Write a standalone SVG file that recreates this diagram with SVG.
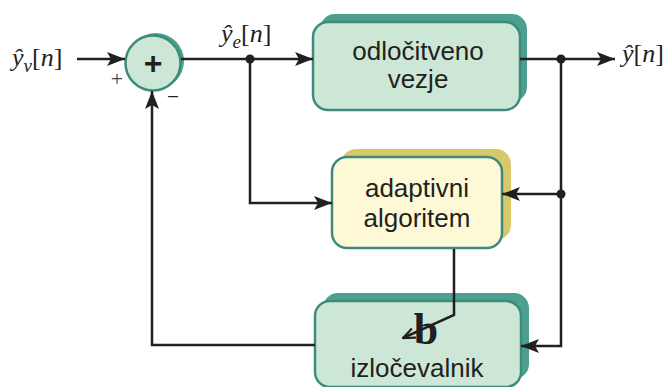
<svg xmlns="http://www.w3.org/2000/svg" width="667" height="387" viewBox="0 0 667 387">
<style>
.ln{fill:none;stroke:#231f20;stroke-width:2.5}
.tb{fill:#cde7d7;stroke:#3d8c7b;stroke-width:2.5}
.ts{fill:#4da08f}
.yb{fill:#fdf9d6;stroke:#3d8c7b;stroke-width:2.5}
.ys{fill:#d8c86a}
.lbl{font-family:"Liberation Sans",Arial,sans-serif;font-size:26px;fill:#231f20;text-anchor:middle}
.m{font-family:"Liberation Serif","Times New Roman",serif;font-size:26px;fill:#231f20}
.mi{font-style:italic}
</style>
<defs>
<marker id="ah" viewBox="0 0 18 14" refX="18" refY="7" markerWidth="18" markerHeight="14" markerUnits="userSpaceOnUse" orient="auto">
<path d="M0,0 L18,7 L0,14 L4,7 Z" fill="#231f20"/>
</marker>
<marker id="oa" viewBox="0 0 14 12" refX="13" refY="6" markerWidth="14" markerHeight="12" markerUnits="userSpaceOnUse" orient="auto">
<path d="M1,1 L13,6 L1,11" fill="none" stroke="#231f20" stroke-width="2.2"/>
</marker>
</defs>

<g id="sum">
<circle cx="156" cy="61" r="28" class="ts"/>
<circle cx="153" cy="63" r="27.5" class="tb"/>
<text x="153" y="74" font-family="Liberation Sans,Arial,sans-serif" font-size="32" font-weight="bold" fill="#231f20" text-anchor="middle">+</text>
<text x="117" y="86" font-family="Liberation Serif,serif" font-size="22" fill="#444" text-anchor="middle">+</text>
<text x="173" y="101" font-family="Liberation Sans,sans-serif" font-size="18" fill="#231f20" text-anchor="middle">–</text>
</g>

<g id="odlocitveno">
<rect x="320" y="14" width="207" height="88" rx="15" class="ts"/>
<rect x="313" y="22" width="207" height="88" rx="15" class="tb"/>
<text class="lbl" x="418" y="60">odločitveno</text>
<text class="lbl" x="418" y="88">vezje</text>
</g>

<g id="adaptivni">
<rect x="341" y="149" width="170" height="91" rx="15" class="ys"/>
<rect x="332" y="157" width="170" height="91" rx="15" class="yb"/>
<text class="lbl" x="417" y="197">adaptivni</text>
<text class="lbl" x="417" y="227">algoritem</text>
</g>

<g id="izlocevalnik">
<rect x="323" y="293" width="206" height="86" rx="15" class="ts"/>
<rect x="315" y="301" width="206" height="86" rx="15" class="tb"/>
<text x="426" y="344" font-family="Liberation Serif,serif" font-size="44" font-weight="bold" fill="#231f20" text-anchor="middle">b</text>
<text class="lbl" x="417" y="377">izločevalnik</text>
</g>

<g id="connectors">
<path class="ln" d="M77,59 H125" marker-end="url(#ah)"/>
<path class="ln" d="M181,59 H313" marker-end="url(#ah)"/>
<path class="ln" d="M250,59 V203 H332" marker-end="url(#ah)"/>
<path class="ln" d="M520,59 H615" marker-end="url(#ah)"/>
<path class="ln" d="M561,59 V346 H521" marker-end="url(#ah)"/>
<path class="ln" d="M561,194 H502" marker-end="url(#ah)"/>
<path class="ln" d="M315,345 H152 V91" marker-end="url(#ah)"/>
<path class="ln" d="M454,249 V315 L403,338" marker-end="url(#oa)"/>
<circle cx="250" cy="59" r="4.5" fill="#231f20"/>
<circle cx="561" cy="59" r="4.5" fill="#231f20"/>
<circle cx="561" cy="194" r="4.5" fill="#231f20"/>
</g>

<g id="labels">
<text class="m" x="12" y="66"><tspan class="mi">ŷ</tspan><tspan class="mi" font-size="19" dy="6">v</tspan><tspan dy="-6">[</tspan><tspan class="mi">n</tspan>]</text>
<text class="m" x="221" y="42"><tspan class="mi">ŷ</tspan><tspan class="mi" font-size="19" dy="6">e</tspan><tspan dy="-6">[</tspan><tspan class="mi">n</tspan>]</text>
<text class="m" x="622" y="62"><tspan class="mi">ŷ</tspan>[<tspan class="mi">n</tspan>]</text>
</g>
</svg>
